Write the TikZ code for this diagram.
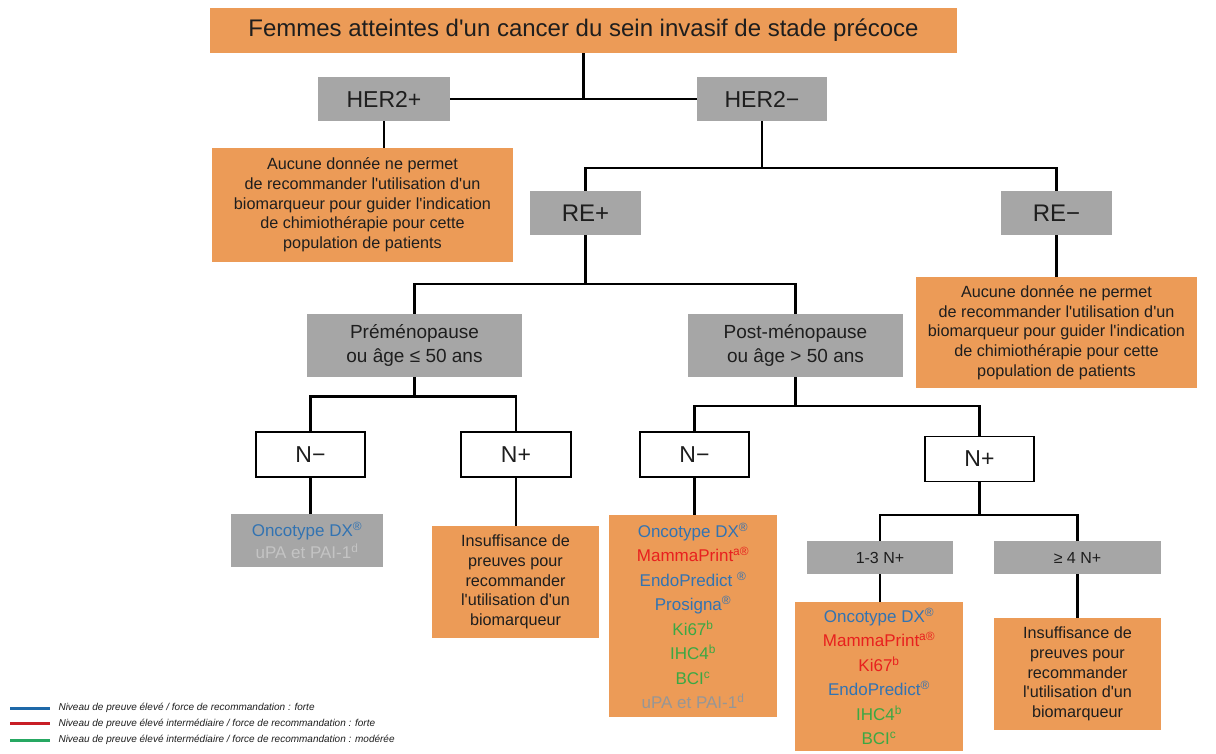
\documentclass[tikz,border=0pt]{standalone}
\usepackage{fontspec}
\setmainfont{Liberation Sans}
\newcommand{\ap}{\textquotesingle}

\begin{document}
\begin{tikzpicture}[x=1pt, y=-1pt]

\definecolor{boxorange}{RGB}{236, 155, 87}
\definecolor{boxgrey}{RGB}{166, 166, 166}
\definecolor{textdark}{RGB}{30, 30, 30}
\definecolor{dxblue}{RGB}{50, 115, 178}
\definecolor{dxred}{RGB}{232, 32, 30}
\definecolor{dxgreen}{RGB}{58, 168, 68}
\definecolor{dxgrey}{RGB}{150, 150, 150}
\definecolor{dxlightgrey}{RGB}{196, 196, 196}
\definecolor{legblue}{RGB}{30, 104, 168}
\definecolor{legred}{RGB}{200, 30, 38}
\definecolor{leggreen}{RGB}{38, 168, 98}

% Page frame
\path[use as bounding box, fill=white] (0,0) rectangle (1216,753);

\tikzset{
    titlebox/.style={
        fill=boxorange, inner sep=0pt, text=textdark,
        minimum width=747pt, minimum height=45pt,
        font=\fontsize{24}{28}\selectfont
    },
    greybox/.style={
        fill=boxgrey, inner sep=0pt, text=textdark, align=center
    },
    orangebox/.style={
        fill=boxorange, inner sep=0pt, text=textdark, align=center,
        font=\fontsize{16.2}{19.7}\selectfont
    },
    listbox/.style={
        fill=boxorange, inner sep=0pt, align=center,
        font=\fontsize{17}{24.5}\selectfont
    },
    whitebox/.style={
        draw=black, line width=1.2pt, fill=white, inner sep=0pt,
        text=textdark, minimum height=45pt,
        font=\fontsize{23}{26}\selectfont
    },
    conn/.style={
        draw=black, line width=2.8pt
    },
    legendline/.style={
        line width=3pt
    },
    legendtext/.style={
        anchor=west, text=textdark, font=\fontsize{10}{12}\selectfont\itshape
    }
}

% --- TOP: POPULATION AND HER2 STATUS ---
\node[titlebox] (title) at (583.5, 30.5) {Femmes atteintes d\ap un cancer du sein invasif de stade précoce};

\node[greybox, minimum width=132pt, minimum height=44pt, font=\fontsize{23}{26}\selectfont] (her2p) at (384, 99) {HER2+};
\node[greybox, minimum width=130pt, minimum height=44pt, font=\fontsize{23}{26}\selectfont] (her2n) at (762, 99) {HER2−};

\node[orangebox, minimum width=301pt, minimum height=114pt] (noBioA) at (362.5, 205) {Aucune donnée ne permet\\de recommander l\ap utilisation d\ap un\\biomarqueur pour guider l\ap indication\\de chimiothérapie pour cette\\population de patients};

% --- HORMONE RECEPTORS ---
\node[greybox, minimum width=111pt, minimum height=44pt, font=\fontsize{24}{27}\selectfont] (rep) at (585.5, 213) {RE+};
\node[greybox, minimum width=111pt, minimum height=44pt, font=\fontsize{24}{27}\selectfont] (ren) at (1056.5, 213) {RE−};

\node[orangebox, minimum width=281pt, minimum height=111pt] (noBioB) at (1056.5, 332.5) {Aucune donnée ne permet\\de recommander l\ap utilisation d\ap un\\biomarqueur pour guider l\ap indication\\de chimiothérapie pour cette\\population de patients};

% --- MENOPAUSAL STATUS ---
\node[greybox, minimum width=215pt, minimum height=63pt, font=\fontsize{19}{24}\selectfont] (pre) at (414.5, 345.5) {Préménopause\\ou âge ≤ 50 ans};
\node[greybox, minimum width=215pt, minimum height=63pt, font=\fontsize{19}{24}\selectfont] (post) at (795.5, 345.5) {Post-ménopause\\ou âge > 50 ans};

% --- NODAL STATUS ---
\node[whitebox, minimum width=109pt] (nmA) at (310.5, 454.5) {N−};
\node[whitebox, minimum width=110pt] (npA) at (516, 454.5) {N+};
\node[whitebox, minimum width=109pt] (nmB) at (694.5, 454.5) {N−};
\node[whitebox, minimum width=109pt] (npB) at (979.5, 459) {N+};

\node[greybox, minimum width=146pt, minimum height=33pt, font=\fontsize{16}{19}\selectfont] (nOne) at (880, 557.5) {1-3 N+};
\node[greybox, minimum width=167pt, minimum height=33pt, font=\fontsize{16}{19}\selectfont] (nFour) at (1077.5, 557.5) {≥ 4 N+};

% --- BIOMARKERS ---
\node[greybox, minimum width=152pt, minimum height=53pt, font=\fontsize{17}{22}\selectfont] (listA) at (307, 540.5) {{\color{dxblue}Oncotype DX\textsuperscript{®}}\\{\color{dxlightgrey}uPA et PAI-1\textsuperscript{d}}};

\node[orangebox, minimum width=167pt, minimum height=112pt] (insufA) at (515.5, 582) {Insuffisance de\\preuves pour\\recommander\\l\ap utilisation d\ap un\\biomarqueur};

\node[listbox, minimum width=168pt, minimum height=202pt] (listB) at (693, 616) {{\color{dxblue}Oncotype DX\textsuperscript{®}}\\{\color{dxred}MammaPrint\textsuperscript{a®}}\\{\color{dxblue}EndoPredict \textsuperscript{®}}\\{\color{dxblue}Prosigna\textsuperscript{®}}\\{\color{dxgreen}Ki67\textsuperscript{b}}\\{\color{dxgreen}IHC4\textsuperscript{b}}\\{\color{dxgreen}BCI\textsuperscript{c}}\\{\color{dxgrey}uPA et PAI-1\textsuperscript{d}}};

\node[listbox, minimum width=168pt, minimum height=149pt] (listC) at (879, 676.5) {{\color{dxblue}Oncotype DX\textsuperscript{®}}\\{\color{dxred}MammaPrint\textsuperscript{a®}}\\{\color{dxred}Ki67\textsuperscript{b}}\\{\color{dxblue}EndoPredict\textsuperscript{®}}\\{\color{dxgreen}IHC4\textsuperscript{b}}\\{\color{dxgreen}BCI\textsuperscript{c}}};

\node[orangebox, minimum width=167pt, minimum height=112pt] (insufB) at (1077.5, 674) {Insuffisance de\\preuves pour\\recommander\\l\ap utilisation d\ap un\\biomarqueur};

% --- CONNECTORS ---
\coordinate (jRE) at (762, 168);
\coordinate (jAge) at (585.5, 284);
\coordinate (jPre) at (414.5, 396.5);
\coordinate (jPost) at (795.5, 406);
\coordinate (jNp) at (979.5, 515);

\draw[conn] (title.south) |- (her2p.east);
\draw[conn] (title.south) |- (her2n.west);
\draw[conn] (her2p.south) -- (her2p.south |- noBioA.north);

\draw[conn] (her2n.south) -- (jRE);
\draw[conn] (rep.north) |- (jRE) -| (ren.north);
\draw[conn] (ren.south) -- (noBioB.north);

\draw[conn] (rep.south) -- (jAge);
\draw[conn] (pre.north) |- (jAge) -| (post.north);

\draw[conn] (pre.south) -- (jPre);
\draw[conn] (nmA.north) |- (jPre) -| (npA.north);
\draw[conn] (nmA.south) -- (nmA.south |- listA.north);
\draw[conn] (npA.south) -- (npA.south |- insufA.north);

\draw[conn] (post.south) -- (jPost);
\draw[conn] (nmB.north) |- (jPost) -| (npB.north);
\draw[conn] (nmB.south) -- (nmB.south |- listB.north);

\draw[conn] (npB.south) -- (jNp);
\draw[conn] (nOne.north) |- (jNp) -| (nFour.north);
\draw[conn] (nOne.south) -- (nOne.south |- listC.north);
\draw[conn] (nFour.south) -- (insufB.north);

% --- LEGEND ---
\node[legendtext] (legA) at (55, 708) {Niveau de preuve élevé / force de recommandation : forte};
\node[legendtext] (legB) at (55, 723.5) {Niveau de preuve élevé intermédiaire / force de recommandation : forte};
\node[legendtext] (legC) at (55, 740) {Niveau de preuve élevé intermédiaire / force de recommandation : modérée};
\draw[legendline, draw=legblue] ([xshift=-45pt]legA.west) -- ([xshift=-5pt]legA.west);
\draw[legendline, draw=legred] ([xshift=-45pt]legB.west) -- ([xshift=-5pt]legB.west);
\draw[legendline, draw=leggreen] ([xshift=-45pt]legC.west) -- ([xshift=-5pt]legC.west);

\end{tikzpicture}
\end{document}
